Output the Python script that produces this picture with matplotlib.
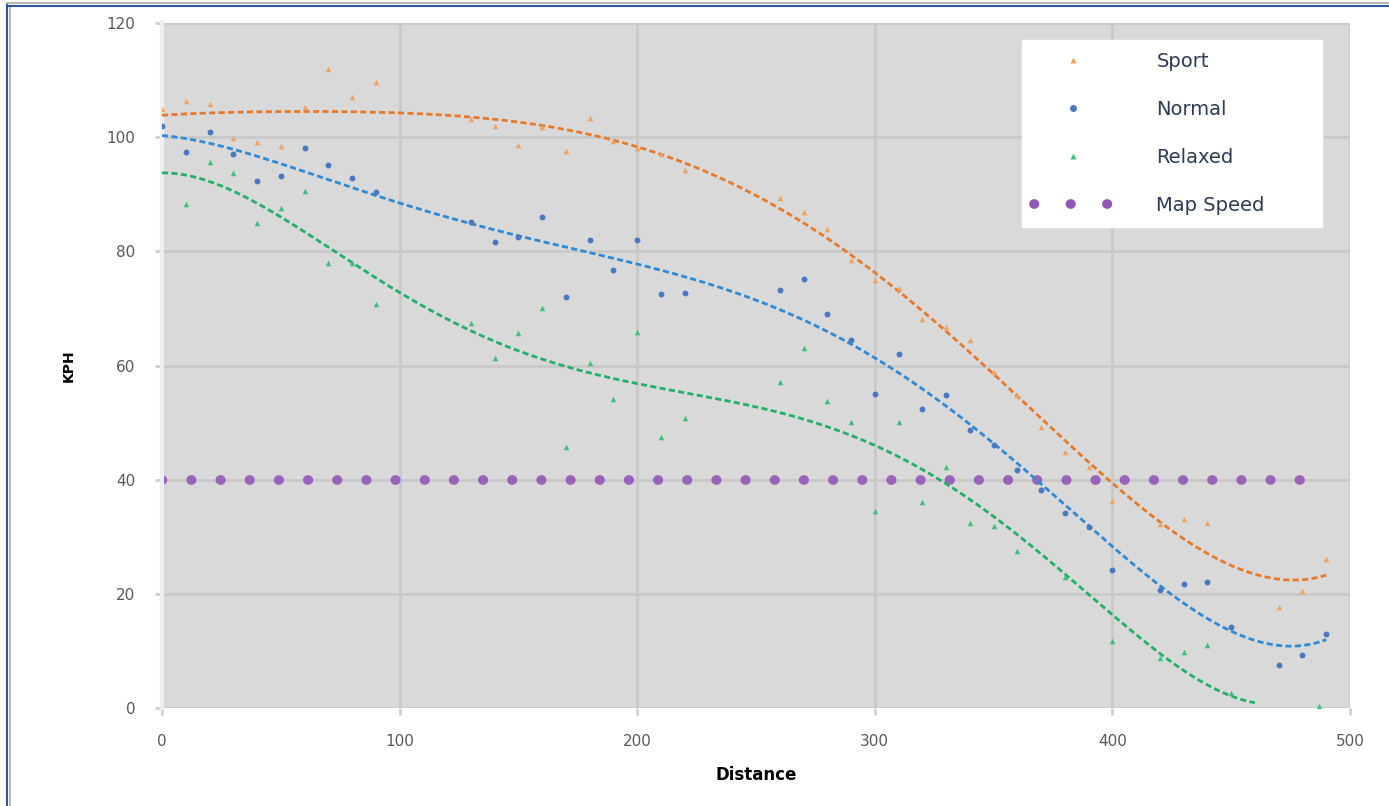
import numpy as np
import matplotlib.pyplot as plt
from matplotlib.lines import Line2D

# distance / speed readings
sport_x = [0, 10, 20, 30, 40, 50, 60, 70, 80, 90, 130, 140, 150, 160, 170, 180, 190, 200, 210, 220,
           260, 270, 280, 290, 300, 310, 320, 330, 340, 350, 360, 370, 380, 390, 400, 420, 430, 440,
           470, 480, 490]
sport_y = [105, 106.3, 105.8, 99.9, 99.2, 98.5, 105.3, 112, 107, 109.7, 103.1, 102, 98.6, 101.8, 97.6,
           103.4, 99.3, 98.1, 97, 94.3, 89.3, 86.9, 83.9, 78.5, 75, 73.6, 68.2, 66.7, 64.5, 58.9, 54.8,
           49.2, 44.8, 42.2, 36.3, 32.2, 33.1, 32.4, 17.7, 20.5, 26.1]

normal_x = [0, 10, 20, 30, 40, 50, 60, 70, 80, 90, 130, 140, 150, 160, 170, 180, 190, 200, 210, 220,
            260, 270, 280, 290, 300, 310, 320, 330, 340, 350, 360, 370, 380, 390, 400, 420, 430, 440,
            450, 470, 480, 490]
normal_y = [102, 97.4, 100.9, 97, 92.3, 93.2, 98.1, 95.1, 92.8, 90.4, 85.1, 81.6, 82.5, 86, 72, 82, 76.8,
            82, 72.5, 72.7, 73.2, 75.2, 69, 64.5, 55, 62, 52.4, 54.8, 48.7, 46.1, 41.7, 38.2, 34.2, 31.7,
            24.2, 20.7, 21.7, 22.1, 14.2, 7.5, 9.3, 13]

relaxed_x = [10, 20, 30, 40, 50, 60, 70, 80, 90, 130, 140, 150, 160, 170, 180, 190, 200, 210, 220,
             260, 270, 280, 290, 300, 310, 320, 330, 340, 350, 360, 380, 400, 420, 430, 440, 450, 487]
relaxed_y = [88.3, 95.7, 93.7, 85, 87.6, 90.6, 78, 78, 70.8, 67.4, 61.3, 65.7, 70.1, 45.7, 60.4, 54.1,
             65.9, 47.5, 50.8, 57.1, 63.1, 53.8, 50.1, 34.5, 50.1, 36.1, 42.2, 32.4, 31.9, 27.5, 23, 11.7,
             8.8, 9.8, 11, 2.6, 0.3]

map_x = [0, 490]
map_speed = [40, 40]

c_sport, c_sport_line = "#F0A25E", "#E8792A"
c_normal, c_normal_line = "#4A78C2", "#2E8AD6"
c_relaxed, c_relaxed_line = "#3CC07A", "#22B068"
c_map = "#9357B8"

fig = plt.figure(figsize=(13.89, 8.06), dpi=100)
ax = fig.add_axes([162 / 1389, 1 - 708 / 806, 1188 / 1389, 685 / 806])
ax.set_facecolor("#D9D9D9")

# polynomial trendlines (Excel style), drawn as far as they stay on the chart
for x, y, col, x_end in [(sport_x, sport_y, c_sport_line, 490),
                         (normal_x, normal_y, c_normal_line, 490),
                         (relaxed_x, relaxed_y, c_relaxed_line, 460)]:
    p = np.polyfit(x, y, 5)
    xs = np.linspace(0, x_end, 300)
    ax.plot(xs, np.polyval(p, xs), color=col, lw=2.0, ls=(0, (2.2, 1.2)), zorder=3)

ax.plot(map_x, map_speed, color=c_map, lw=7, ls=(0, (0.05, 2.95)),
        dash_capstyle="round", alpha=0.9, zorder=2)

ax.scatter(sport_x, sport_y, marker="^", s=16, color=c_sport, zorder=4, linewidths=0)
ax.scatter(normal_x, normal_y, marker="o", s=18, color=c_normal, zorder=4, linewidths=0)
ax.scatter(relaxed_x, relaxed_y, marker="^", s=16, color=c_relaxed, zorder=4, linewidths=0)

ax.set_xlim(0, 500)
ax.set_ylim(0, 120)
ax.set_xticks(range(0, 501, 100))
ax.set_yticks(range(0, 121, 20))
ax.grid(True, color="#C9C9C9", lw=2)
ax.set_axisbelow(True)
for s in ["top", "right", "bottom"]:
    ax.spines[s].set_visible(False)
ax.spines["left"].set_color("#EFEFEF")
ax.spines["left"].set_linewidth(3)
ax.tick_params(colors="#D0D0D0", labelcolor="#595959", labelsize=11, length=5, width=2)
ax.tick_params(axis="y", pad=14)
ax.tick_params(axis="x", pad=14)

ax.set_xlabel("Distance", fontsize=12, fontweight="bold", labelpad=12)
ax.set_ylabel("KPH", fontsize=10, fontweight="bold", labelpad=22)

handles = [
    Line2D([], [], ls="none", marker="^", ms=5, color=c_sport, mec="none"),
    Line2D([], [], ls="none", marker="o", ms=5, color=c_normal, mec="none"),
    Line2D([], [], ls="none", marker="^", ms=5, color=c_relaxed, mec="none"),
    Line2D([], [], color=c_map, lw=7, ls=(0, (0.05, 3.7)), dash_capstyle="round"),
]
leg_h = 187 / 685
leg = ax.legend(handles, ["Sport", "Normal", "Relaxed", "Map Speed"], loc="upper left",
                bbox_to_anchor=(0.724, 0.975 - leg_h, 300 / 1188, leg_h), mode="expand",
                fontsize=14, frameon=True, fancybox=False,
                facecolor="white", edgecolor="white", framealpha=1, labelspacing=1.5,
                handlelength=4.0, handletextpad=2.3, borderpad=0.6, borderaxespad=0)
for t in leg.get_texts():
    t.set_color("#2B3A55")

# screenshot frame at left/top
fig.add_artist(Line2D([7 / 1389, 7 / 1389], [0, 1 - 5 / 806], color="#2F54A0", lw=1.5))
fig.add_artist(Line2D([9.5 / 1389, 9.5 / 1389], [0, 1 - 7 / 806], color="#B8B8B8", lw=1.5))
fig.add_artist(Line2D([7 / 1389, 1], [1 - 5.5 / 806, 1 - 5.5 / 806], color="#2F54A0", lw=1.5))
fig.add_artist(Line2D([7 / 1389, 1], [1 - 3 / 806, 1 - 3 / 806], color="#B8B8B8", lw=1.5))

fig.savefig("out.png", dpi=100)
